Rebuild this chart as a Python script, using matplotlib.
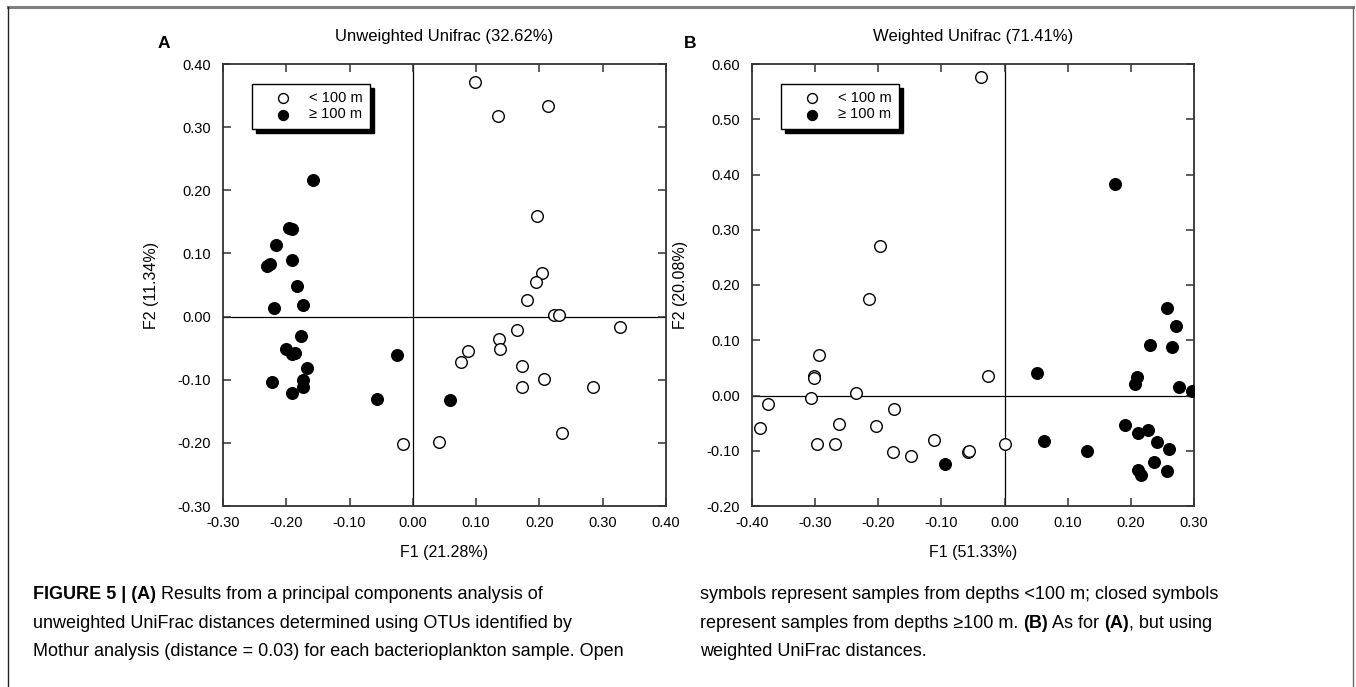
import matplotlib
matplotlib.use("Agg")
import matplotlib.pyplot as plt
from matplotlib.lines import Line2D

plt.rcParams["font.family"] = ["Liberation Sans", "DejaVu Sans"]
plt.rcParams["axes.unicode_minus"] = False

# Panel A: unweighted UniFrac PCA scores
a_shallow_x = [0.098, 0.134, 0.214, 0.196, 0.204, 0.194, 0.180, 0.223, 0.231, 0.327, 0.165,
               0.136, 0.138, 0.087, 0.076, 0.173, 0.173, 0.207, 0.284, 0.235, 0.041, -0.016]
a_shallow_y = [0.372, 0.318, 0.333, 0.160, 0.069, 0.055, 0.027, 0.002, 0.002, -0.017, -0.021,
               -0.035, -0.052, -0.054, -0.072, -0.079, -0.111, -0.099, -0.111, -0.184, -0.198, -0.202]
a_deep_x = [-0.158, -0.195, -0.191, -0.216, -0.230, -0.226, -0.191, -0.183, -0.220, -0.173, -0.177,
            -0.201, -0.191, -0.186, -0.167, -0.222, -0.173, -0.173, -0.191, -0.057, -0.025, 0.058]
a_deep_y = [0.217, 0.140, 0.139, 0.114, 0.080, 0.084, 0.089, 0.048, 0.014, 0.019, -0.031,
            -0.051, -0.059, -0.058, -0.082, -0.103, -0.101, -0.111, -0.121, -0.130, -0.061, -0.132]

# Panel B: weighted UniFrac PCA scores
b_shallow_x = [-0.038, -0.198, -0.214, -0.294, -0.302, -0.302, -0.236, -0.306, -0.374, -0.387, -0.263,
               -0.297, -0.269, -0.175, -0.203, -0.177, -0.148, -0.112, -0.058, -0.056, -0.027, 0.000]
b_shallow_y = [0.577, 0.271, 0.175, 0.073, 0.036, 0.031, 0.004, -0.005, -0.016, -0.058, -0.051,
               -0.088, -0.088, -0.024, -0.055, -0.102, -0.109, -0.080, -0.102, -0.100, 0.035, -0.087]
b_deep_x = [0.175, -0.094, 0.052, 0.062, 0.130, 0.258, 0.272, 0.231, 0.265, 0.210, 0.206,
            0.276, 0.297, 0.191, 0.212, 0.227, 0.241, 0.260, 0.237, 0.212, 0.216, 0.258]
b_deep_y = [0.383, -0.124, 0.040, -0.082, -0.100, 0.159, 0.126, 0.091, 0.088, 0.034, 0.020,
            0.016, 0.009, -0.054, -0.067, -0.063, -0.085, -0.096, -0.120, -0.135, -0.144, -0.136]

a_ticks_x = [-0.30, -0.20, -0.10, 0.00, 0.10, 0.20, 0.30, 0.40]
a_ticks_y = [-0.30, -0.20, -0.10, 0.00, 0.10, 0.20, 0.30, 0.40]
b_ticks_x = [-0.40, -0.30, -0.20, -0.10, 0.00, 0.10, 0.20, 0.30]
b_ticks_y = [-0.20, -0.10, 0.00, 0.10, 0.20, 0.30, 0.40, 0.50, 0.60]

W, H = 1356, 687
fig = plt.figure(figsize=(W / 100, H / 100), dpi=100)


def panel(rect, sx, sy, dx, dy, xt, yt, title, xlab, ylab):
    ax = fig.add_axes(rect)
    ax.axvline(0, color="black", lw=0.9, zorder=1)
    ax.axhline(0, color="black", lw=0.9, zorder=1)
    ax.scatter(sx, sy, s=70, facecolors="white", edgecolors="black", linewidths=1.0,
               zorder=3, label="< 100 m")
    ax.scatter(dx, dy, s=70, facecolors="black", edgecolors="black", linewidths=1.0,
               zorder=3, label="\u2265 100 m")
    ax.set_xlim(xt[0], xt[-1])
    ax.set_ylim(yt[0], yt[-1])
    ax.set_xticks(xt)
    ax.set_yticks(yt)
    ax.set_xticklabels(["%.2f" % v for v in xt])
    ax.set_yticklabels(["%.2f" % v for v in yt])
    ax.tick_params(direction="in", top=True, right=True, length=5.5, width=1.1,
                   labelsize=10.5, color="#333333")
    ax.tick_params(axis="x", pad=7)
    ax.tick_params(axis="y", pad=8.5)
    for sp in ax.spines.values():
        sp.set_linewidth(1.3)
        sp.set_color("#333333")
    ax.text(0.5, 1 + 28 / 442, title, transform=ax.transAxes, fontsize=12,
            ha="center", va="center")
    ax.set_xlabel(xlab, fontsize=11.5)
    ax.set_ylabel(ylab, fontsize=11.5)
    ax.xaxis.set_label_coords(0.5, -0.088)
    ax.yaxis.set_label_coords(-0.145, 0.5)
    leg = ax.legend(loc="upper left", bbox_to_anchor=(0.0655, 0.955), fontsize=10.5,
                    frameon=True, fancybox=False, edgecolor="black", framealpha=1,
                    shadow={"color": "black", "alpha": 1, "ox": 3, "oy": -3},
                    handlelength=3.3, handletextpad=0.1, borderpad=0.5,
                    labelspacing=0.15, markerscale=0.85, borderaxespad=0)
    leg.get_frame().set_linewidth(1.0)
    return ax


panel([223 / W, 1 - 506 / H, 443 / W, 442 / H], a_shallow_x, a_shallow_y, a_deep_x, a_deep_y,
      a_ticks_x, a_ticks_y, "Unweighted Unifrac (32.62%)", "F1 (21.28%)", "F2 (11.34%)")
panel([752 / W, 1 - 506 / H, 442 / W, 442 / H], b_shallow_x, b_shallow_y, b_deep_x, b_deep_y,
      b_ticks_x, b_ticks_y, "Weighted Unifrac (71.41%)", "F1 (51.33%)", "F2 (20.08%)")

fig.text(164 / W, 1 - 44 / H, "A", fontsize=12.5, fontweight="bold", va="center", ha="center")
fig.text(690 / W, 1 - 44 / H, "B", fontsize=12.5, fontweight="bold", va="center", ha="center")

# frame
fig.add_artist(Line2D([8 / W, 1353 / W], [1 - 7 / H, 1 - 7 / H], color="#808080", lw=2.2))
fig.add_artist(Line2D([8 / W, 8 / W], [1 - 7 / H, 0], color="#222222", lw=1.0))
fig.add_artist(Line2D([1353 / W, 1353 / W], [1 - 7 / H, 0], color="#666666", lw=1.0))

# caption
cap_font = ["Liberation Sans Narrow", "Liberation Sans", "DejaVu Sans"]
left_lines = [
    [("FIGURE 5 | (A)", "bold"), (" Results from a principal components analysis of", "normal")],
    [("unweighted UniFrac distances determined using OTUs identified by", "normal")],
    [("Mothur analysis (distance = 0.03) for each bacterioplankton sample. Open", "normal")],
]
right_lines = [
    [("symbols represent samples from depths <100 m; closed symbols", "normal")],
    [("represent samples from depths \u2265100 m. ", "normal"), ("(B)", "bold"), (" As for ", "normal"),
     ("(A)", "bold"), (", but using", "normal")],
    [("weighted UniFrac distances.", "normal")],
]

fig.canvas.draw()
renderer = fig.canvas.get_renderer()


def draw_runs(x0, y0, runs):
    x = x0
    for txt, wt in runs:
        t = fig.text(x / W, 1 - y0 / H, txt, fontsize=13, fontweight=wt,
                     family=cap_font, va="baseline", ha="left")
        bb = t.get_window_extent(renderer=renderer)
        x += bb.width


for i, runs in enumerate(left_lines):
    draw_runs(33, 599 + 28.5 * i, runs)
for i, runs in enumerate(right_lines):
    draw_runs(700, 599 + 28.5 * i, runs)

fig.savefig("out.png", dpi=100)
